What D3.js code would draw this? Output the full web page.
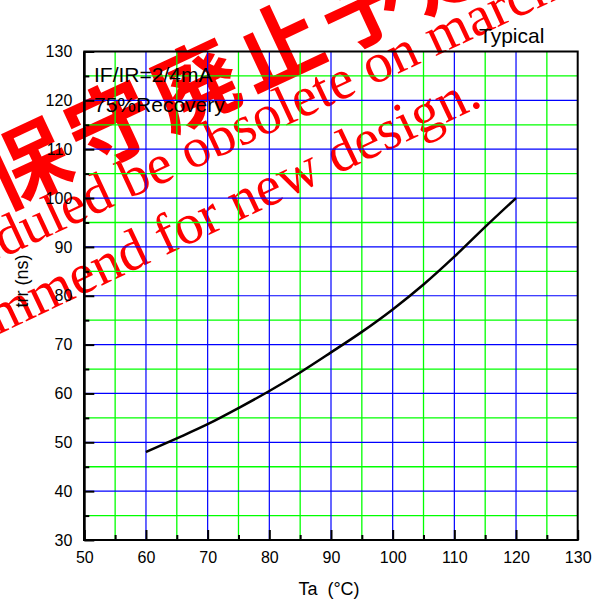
<!DOCTYPE html>
<html><head><meta charset="utf-8">
<script src="https://cdn.jsdelivr.net/npm/d3@7"></script>
<style>
html,body{margin:0;padding:0;background:#fff;}
svg{display:block;}
text{font-family:"Liberation Sans",Arial,sans-serif;}
</style></head>
<body>
<svg id="chart" width="596" height="604"></svg>
<script>
// ---- data ----
const temps = [60, 65, 70, 75, 80, 85, 90, 95, 100, 105, 110, 115, 120];
const trr   = [48, 50.8, 53.7, 57.0, 60.5, 64.3, 68.4, 72.6, 77.2, 82.3, 88.0, 94.1, 100];
const xMajorTicks = [50, 60, 70, 80, 90, 100, 110, 120, 130];
const xMinorTicks = [55, 65, 75, 85, 95, 105, 115, 125];
const yMajorTicks = [30, 40, 50, 60, 70, 80, 90, 100, 110, 120, 130];
const yMinorTicks = [35, 45, 55, 65, 75, 85, 95, 105, 115, 125];
const xTitle = "Ta  (°C)";
const yTitle = "trr (ns)";
const noteLines = ["IF/IR=2/4mA", "75%Recovery"];
const typicalLabel = "Typical";
const watermarkCJK = "保守廃止予定";
const watermarkLine1 = "Scheduled be obsolete on march";
const watermarkLine2 = "Not recommend for new design.";

// ---- layout ----
const svg = d3.select("#chart");
const L = 84.3, R = 577.7, T = 51.5, B = 540;
const x = d3.scaleLinear().domain([50, 130]).range([L, R]);
const y = d3.scaleLinear().domain([30, 130]).range([B, T]);

// ---- watermark (underneath) ----
const wm = svg.append("g").attr("fill", "#ff0000");
wm.append("text")
  .attr("transform", "translate(-15.5,177) rotate(-25)")
  .attr("dominant-baseline", "central")
  .style("font-family", '"Noto Sans CJK JP","Noto Sans CJK SC",sans-serif')
  .style("font-weight", "bold")
  .style("font-size", "86px")
  .style("letter-spacing", "7px")
  .text(watermarkCJK);
wm.append("text")
  .attr("transform", "translate(-95,303.5) rotate(-25)")
  .style("font-family", '"Liberation Serif","Times New Roman",serif')
  .style("font-size", "56px")
  .text(watermarkLine1);
wm.append("text")
  .attr("transform", "translate(484,105) rotate(-25.3)")
  .attr("text-anchor", "end")
  .style("font-family", '"Liberation Serif","Times New Roman",serif')
  .style("font-size", "57px")
  .text(watermarkLine2);

// ---- grid ----
const grid = svg.append("g");
grid.selectAll(".gvx").data(xMinorTicks).join("line")
  .attr("x1", d => x(d)).attr("x2", d => x(d)).attr("y1", T).attr("y2", B)
  .attr("stroke", "#00ff00").attr("stroke-width", 1.3);
grid.selectAll(".gvy").data(yMinorTicks).join("line")
  .attr("x1", L).attr("x2", R).attr("y1", d => y(d)).attr("y2", d => y(d))
  .attr("stroke", "#00ff00").attr("stroke-width", 1.3);
grid.selectAll(".bvx").data(xMajorTicks.slice(1, -1)).join("line")
  .attr("x1", d => x(d)).attr("x2", d => x(d)).attr("y1", T).attr("y2", B)
  .attr("stroke", "#0000ff").attr("stroke-width", 1.2);
grid.selectAll(".bvy").data(yMajorTicks.slice(1, -1)).join("line")
  .attr("x1", L).attr("x2", R).attr("y1", d => y(d)).attr("y2", d => y(d))
  .attr("stroke", "#0000ff").attr("stroke-width", 1.2);

// ---- frame ----
svg.append("rect").attr("x", L).attr("y", T).attr("width", R - L).attr("height", B - T)
  .attr("fill", "none").attr("stroke", "#000").attr("stroke-width", 2);

// ---- axes ----
const styleAxis = g => {
  g.select(".domain").remove();
  g.selectAll(".tick line").attr("stroke", "#000").attr("stroke-width", 2);
  g.selectAll(".tick text").attr("fill", "#000")
    .style("font-family", '"Liberation Sans",Arial,sans-serif').style("font-size", "16px");
};
svg.append("g").attr("transform", `translate(0,${B})`)
  .call(d3.axisBottom(x).tickValues(xMajorTicks).tickSize(-10).tickPadding(12).tickFormat(d3.format("d")))
  .call(styleAxis);
svg.append("g").attr("transform", `translate(0,${B})`)
  .call(d3.axisBottom(x).tickValues(xMinorTicks).tickSize(-5).tickFormat(""))
  .call(styleAxis);
svg.append("g").attr("transform", `translate(${L},0)`)
  .call(d3.axisLeft(y).tickValues(yMajorTicks).tickSize(-10).tickPadding(12).tickFormat(d3.format("d")))
  .call(styleAxis);
svg.append("g").attr("transform", `translate(${L},0)`)
  .call(d3.axisLeft(y).tickValues(yMinorTicks).tickSize(-5).tickFormat(""))
  .call(styleAxis);
svg.append("line").attr("x1", L).attr("x2", L).attr("y1", T).attr("y2", B + 1)
  .attr("stroke", "#000").attr("stroke-width", 2.6);

// ---- curve ----
const pts = temps.map((t, i) => [t, trr[i]]);
svg.append("path").datum(pts)
  .attr("fill", "none").attr("stroke", "#000").attr("stroke-width", 2.5)
  .attr("d", d3.line().x(d => x(d[0])).y(d => y(d[1])).curve(d3.curveMonotoneX));

// ---- labels ----
svg.append("text").attr("x", 94).attr("y", 81.7).style("font-size", "21px").text(noteLines[0]);
svg.append("text").attr("x", 94).attr("y", 111.5).style("font-size", "21px").text(noteLines[1]);
svg.append("text").attr("x", 479).attr("y", 42.7).style("font-size", "21px").text(typicalLabel);
svg.append("text").attr("x", 329).attr("y", 595).attr("text-anchor", "middle")
  .style("font-size", "18px").style("white-space", "pre").attr("xml:space", "preserve").text(xTitle);
svg.append("text").attr("transform", "translate(27.5,281) rotate(-90)").attr("text-anchor", "middle")
  .style("font-size", "18px").text(yTitle);
</script>
</body></html>
